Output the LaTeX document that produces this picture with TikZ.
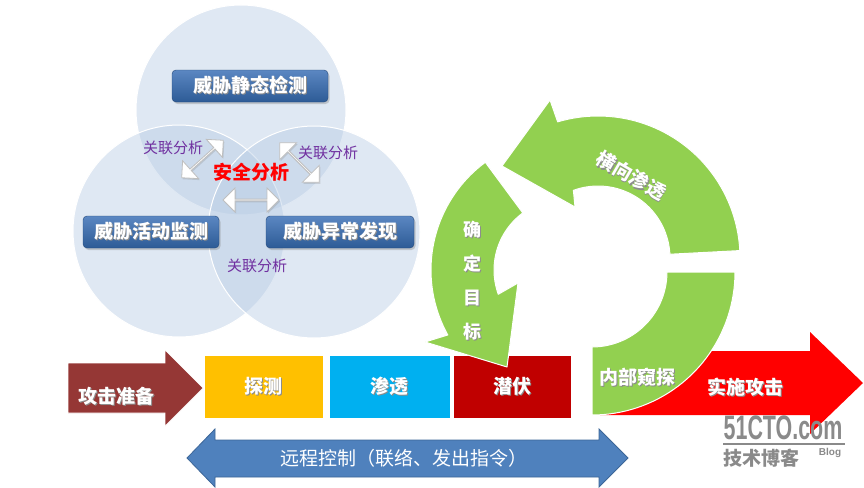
\documentclass[tikz,border=0pt]{standalone}
\usepackage{fontspec}
\setmainfont{Noto Sans CJK SC}
\newfontfamily\wmfont{Liberation Sans}
\usetikzlibrary{shapes.arrows,shadows}
\definecolor{circfill}{HTML}{B9CDE5}
\definecolor{topblue}{HTML}{5B87C2}
\definecolor{botblue}{HTML}{2D5B96}
\definecolor{edgeblue}{HTML}{24497A}
\definecolor{linkpurple}{HTML}{7030A0}
\definecolor{prepred}{HTML}{953735}
\definecolor{probeyel}{HTML}{FFC000}
\definecolor{penblue}{HTML}{00B0F0}
\definecolor{lurkred}{HTML}{C00000}
\definecolor{arcgreen}{HTML}{92D050}
\definecolor{ctrlblue}{HTML}{4F81BD}
\definecolor{ctrledge}{HTML}{3C6698}
\definecolor{wmgray}{HTML}{8A8A8A}
\newcommand\shd[1]{\leavevmode\rlap{\kern1.2pt\raisebox{-1.2pt}{\textcolor{black!45}{#1}}}#1}
\begin{document}
\begin{tikzpicture}[x=1pt,y=-1pt,
  zone/.style={fill=circfill, fill opacity=0.45, draw=white, line width=1pt},
  threat/.style={rounded corners=4pt, top color=topblue, bottom color=botblue, draw=edgeblue, text=white, minimum height=32pt, inner sep=0pt, font=\bfseries\fontsize{19}{22}\selectfont, drop shadow={shadow xshift=1.5pt, shadow yshift=-2pt, opacity=0.35}},
  link/.style={text=linkpurple, inner sep=0pt, font=\fontsize{15}{18}\selectfont},
  biarrow/.style={double arrow, fill=white, draw=gray!50, line width=0.8pt, minimum height=56pt, minimum width=24pt, double arrow head extend=5pt, inner sep=0pt, drop shadow={shadow xshift=1pt, shadow yshift=-1.5pt, opacity=0.25}},
  stage/.style={minimum height=63pt, inner sep=0pt, text=white, font=\bfseries\fontsize{19}{22}\selectfont, draw=white, line width=0.6pt},
  wtext/.style={text=white, font=\bfseries\fontsize{19}{22}\selectfont, inner sep=0pt},
  greenpart/.style={fill=arcgreen, draw=white, line width=1pt, line join=round},
]
\useasboundingbox (0,0) rectangle (864,487);
\fill[white] (0,0) rectangle (864,487);

% ---- three overlapping zones
\draw[zone] (241,110) circle[radius=105pt];
\draw[zone] (179,231) circle[radius=106pt];
\draw[zone] (314,232) circle[radius=106pt];

% ---- double arrows
\node[biarrow, rotate=42] (la) at (202.5,159) {};
\node[biarrow, rotate=-45] (ra) at (299.5,162.5) {};
\node[biarrow] (ha) at (251,200) {};

% ---- labels
\node[link] (l1) at (173,148) {关联分析};
\node[link] (l2) at (328,153) {关联分析};
\node[link] (l3) at (257,266) {关联分析};
\node[text=red, inner sep=0pt, font=\bfseries\fontsize{19}{22}\selectfont] (sec) at (251,172) {安全分析};

% ---- threat boxes
\node[threat, minimum width=156pt] (static) at (250,86) {\shd{威胁静态检测}};
\node[threat, minimum width=136pt] (active) at (151,232) {\shd{威胁活动监测}};
\node[threat, minimum width=148pt] (anom) at (340,232) {\shd{威胁异常发现}};

% ---- attack preparation arrow
\fill[prepred, draw=white, line width=0.6pt] (68,363) -- (165,363) -- (165,350) -- (203,388) -- (165,426) -- (165,413) -- (68,413) -- cycle;

% ---- stage boxes
\node[stage, fill=probeyel, minimum width=119pt] (probe) at (263.5,386.5) {\shd{探测}};
\node[stage, fill=penblue, minimum width=121pt] (pen) at (389.5,386.5) {\shd{渗透}};
\node[stage, fill=lurkred, minimum width=118pt] (lurk) at (512,386.5) {\shd{潜伏}};

% ---- execute attack arrow
\fill[red] (600,351) -- (810,351) -- (810,332) -- (863,383) -- (810,434) -- (810,415) -- (600,415) -- cycle;

% ---- green cycle
\path[greenpart] plot[domain=-90:0, samples=40] ({592+143*cos(\x)},{272-143*sin(\x)})
  -- plot[domain=0:-90, samples=30] ({592+75*cos(\x)},{272-75*sin(\x)}) -- cycle;
\path[greenpart] plot[domain=3:106.5, samples=50] ({598+142*cos(\x)},{258-142*sin(\x)})
  -- (550,100) -- (502,166) -- (575,207)
  -- plot[domain=110:3, samples=40] ({598+72*cos(\x)},{258-72*sin(\x)}) -- cycle;
\path[greenpart] plot[domain=126.5:209, samples=40] ({565+134*cos(\x)},{270-134*sin(\x)})
  -- (425,342) -- (507,367) -- (518,283)
  -- plot[domain=200:126.5, samples=30] ({565+71*cos(\x)},{270-71*sin(\x)}) -- cycle;

% ---- remote control double arrow
\fill[ctrlblue, draw=ctrledge, line width=0.8pt] (187,458) -- (215,429) -- (215,440) -- (599,440) -- (599,429) -- (628,458) -- (599,487) -- (599,477) -- (215,477) -- (215,487) -- cycle;

% ---- texts
\node[wtext] (prep) at (116,397) {\shd{攻击准备}};
\node[wtext] (exec) at (745,388) {\shd{实施攻击}};
\node[wtext] (inner) at (637,378) {\shd{内部窥探}};
\node[wtext, rotate=-30] (lateral) at (631,176) {\shd{横向渗透}};
\node[wtext, align=center, font=\bfseries\fontsize{18}{34}\selectfont] (target) at (472,281) {\shd{确}\\\shd{定}\\\shd{目}\\\shd{标}};
\node[text=white, inner sep=0pt, font=\fontsize{19}{22}\selectfont] (ctrl) at (404,458) {远程控制（联络、发出指令）};

% ---- watermark
\node[text=wmgray, font=\wmfont\bfseries\fontsize{34}{34}\selectfont, xscale=0.63, inner sep=0pt] (wm) at (783,428) {51CTO.com};
\draw[wmgray, line width=1.2pt] (723,444) -- (845,444);
\node[text=wmgray, font=\bfseries\fontsize{19}{22}\selectfont, inner sep=0pt] (wmcn) at (761,458) {技术博客};
\node[text=wmgray, font=\wmfont\bfseries\fontsize{10}{12}\selectfont, inner sep=0pt] (wmblog) at (830,453) {Blog};
\end{tikzpicture}
\end{document}
